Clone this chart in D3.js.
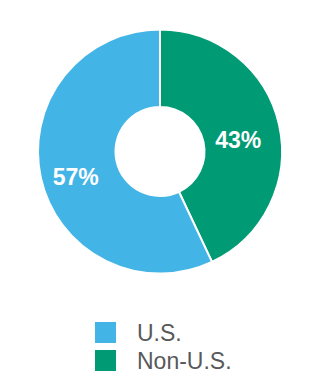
<!DOCTYPE html>
<html>
<head>
<meta charset="utf-8">
<script src="https://cdn.jsdelivr.net/npm/d3@7"></script>
<style>
  html, body { margin: 0; padding: 0; background: #fff; }
</style>
</head>
<body>
<script>
// slices in drawing order (clockwise from 12 o'clock)
const sliceNames = ["Non-U.S.", "U.S."];
const sliceValues = [43, 57];
const sliceColors = ["#009b74", "#42b4e6"];
// legend order
const legendNames = ["U.S.", "Non-U.S."];

const width = 320;
const height = 380;
const cx = 160, cy = 151.5;
const outerR = 122, innerR = 44.5;

const svg = d3.select("body").append("svg")
  .attr("width", width)
  .attr("height", height);

const color = d3.scaleOrdinal().domain(sliceNames).range(sliceColors);

const pie = d3.pie()
  .sort(null)
  .value((d, i) => sliceValues[i]);

const arc = d3.arc().innerRadius(innerR).outerRadius(outerR);

const g = svg.append("g").attr("transform", `translate(${cx},${cy})`);

const arcs = pie(sliceNames);

g.selectAll("path")
  .data(arcs)
  .enter()
  .append("path")
  .attr("d", arc)
  .style("fill", d => color(d.data))
  .style("stroke", "#fff")
  .style("stroke-width", 2);

g.selectAll("text")
  .data(arcs)
  .enter()
  .append("text")
  .attr("x", d => arc.centroid(d)[0])
  .attr("y", d => arc.centroid(d)[1])
  .attr("dx", -3)
  .attr("dy", 15)
  .attr("text-anchor", "middle")
  .style("font-family", "'Liberation Sans', Arial, sans-serif")
  .style("font-weight", "bold")
  .style("font-size", "23px")
  .style("fill", "#fff")
  .text(d => d.value + "%");

// legend
const legend = svg.append("g").attr("transform", "translate(95,322)");
const item = legend.selectAll("g")
  .data(legendNames)
  .enter()
  .append("g")
  .attr("transform", (d, i) => `translate(0,${i * 28})`);

item.append("rect")
  .attr("width", 21)
  .attr("height", 21)
  .style("fill", d => color(d));

item.append("text")
  .attr("x", 42)
  .attr("y", 19)
  .style("font-family", "'Liberation Sans', Arial, sans-serif")
  .style("font-size", "23px")
  .style("fill", "#58595b")
  .text(d => d);
</script>
</body>
</html>
